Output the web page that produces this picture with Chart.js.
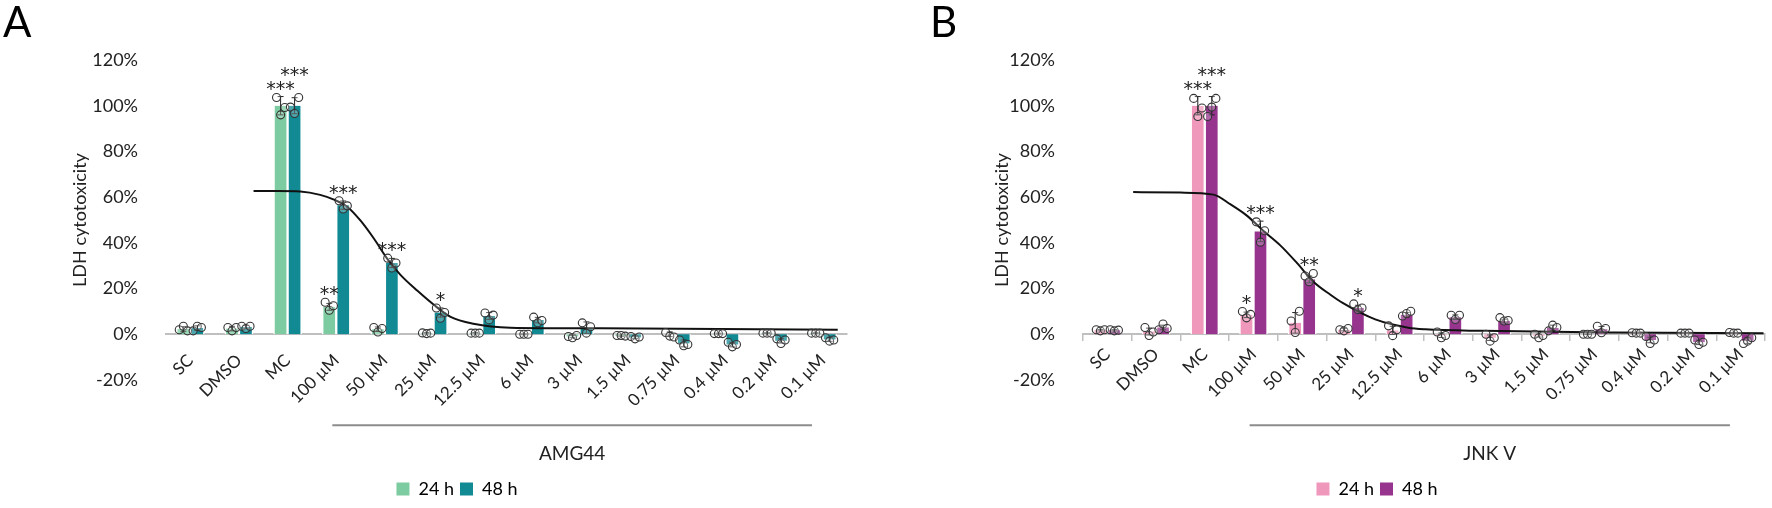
<!DOCTYPE html>
<html>
<head>
<meta charset="utf-8">
<script src="https://cdn.jsdelivr.net/npm/chart.js@4.4.1/dist/chart.umd.min.js"></script>
<style>
body{margin:0;background:#fff;}
.panel{position:absolute;top:0;width:886px;height:508px;}
</style>
</head>
<body>
<div class="panel" style="left:0"><canvas id="chartA"></canvas></div>
<div class="panel" style="left:886px"><canvas id="chartB"></canvas></div>
<script>
const labels = ['SC', 'DMSO', 'MC', '100 µM', '50 µM', '25 µM', '12.5 µM', '6 µM', '3 µM', '1.5 µM', '0.75 µM', '0.4 µM', '0.2 µM', '0.1 µM']
const yTicks = [-20, 0, 20, 40, 60, 80, 100, 120]

// AMG44 (panel A)
const amg24 = [2.3, 2.5, 100, 12, 2.2, 0.5, 0.5, 0, -1, -0.6, 0, 0.3, 0.5, 0.5]
const amg48 = [2.7, 3.2, 100, 56.5, 31.2, 9.5, 8, 6.2, 2.9, -1.4, -4, -4.5, -2.8, -2.3]
const amg24err = [1, 1, 4, 1.5, 1, 0.3, 0.3, 0.2, 0.5, 0.3, 1, 0.2, 0.2, 0.2]
const amg48err = [1, 0.6, 3.5, 1.8, 2, 2, 1.5, 1.2, 2.5, 0.5, 1.5, 1, 1, 0.8]
const amg24reps = [[2, 3.5, 1.5], [3, 1.5, 3], [103.6, 96, 99.2], [14, 10.5, 12.5], [3, 1, 2.5], [0.6, 0.3, 0.5], [0.5, 0.5, 0.5], [0, 0, 0], [-1, -1.5, -0.5], [-0.5, -0.5, -0.8], [0.8, -0.8, -1.2], [0.3, 0.3, 0.3], [0.5, 0.5, 0.5], [0.5, 0.5, 0.5]]
const amg48reps = [[1.5, 3.5, 3], [3.5, 2.5, 3.5], [99.4, 96.6, 103.6], [58.4, 54.8, 56.2], [33.3, 29, 31.2], [11.5, 7, 9.5], [9.3, 6.3, 8.4], [7.5, 5, 6], [5, 0.5, 3.3], [-1, -2, -1.2], [-2.5, -5, -4.5], [-3.5, -5.5, -4.5], [-2, -4, -2.5], [-1.5, -3, -2.5]]
const amg24stars = ['', '', '***', '**', '', '', '', '', '', '', '', '', '', '']
const amg48stars = ['', '', '***', '***', '***', '*', '', '', '', '', '', '', '', '']
const amgCurveX = [1.3, 1.8, 2.26, 2.67, 2.94, 3.23, 3.5, 3.77, 4.05, 4.32, 4.67, 5.0, 5.35, 5.82, 6.58, 8.44, 13.31]
const amgCurveY = [62.7, 62.7, 62.5, 61, 59, 55.7, 49.7, 42, 33, 26, 19, 13, 7.6, 4.6, 2.9, 2.6, 2.0]

// JNK V (panel B)
const jnk24 = [1.8, 1.2, 100, 8.5, 5, 2, 1.7, -0.4, -1.5, -0.6, 0, 0.5, 0.5, 0.6]
const jnk48 = [1.8, 3, 100, 45, 24, 11.5, 8.5, 7.5, 5.8, 2.8, 2.2, -2.5, -3.5, -2.8]
const jnk24err = [0.3, 1.5, 4, 1.2, 4.5, 0.5, 1.8, 1, 1.2, 0.6, 0.1, 0.2, 0.1, 0.2]
const jnk48err = [0.3, 1, 4, 4.5, 1.5, 1.2, 1, 1, 0.8, 1.2, 1.2, 1.2, 1, 1.2]
const jnk24reps = [[2, 1.5, 2], [3, -0.5, 1], [103.2, 95.3, 99], [10, 7.2, 8.7], [5.8, 0.8, 10.1], [2, 1.5, 2.5], [3.7, -0.6, 2], [1, -1.5, -0.5], [0, -3, -1.5], [0, -1.5, -0.5], [0, 0, 0], [0.7, 0.5, 0.5], [0.5, 0.5, 0.5], [0.8, 0.5, 0.5]]
const jnk48reps = [[2, 1.5, 1.8], [2, 4.5, 2.5], [95.3, 99.4, 103.2], [49.2, 40.3, 45.3], [25.5, 23, 26.6], [13.3, 10.8, 11.5], [8, 9.1, 10.1], [8.3, 6.5, 8.3], [7.3, 5.8, 6], [1.5, 4, 3], [3.5, 0.7, 2.5], [-1, -4, -2.5], [-2.5, -4.5, -3.5], [-4, -3, -1.5]]
const jnk24stars = ['', '', '***', '*', '', '', '', '', '', '', '', '', '', '']
const jnk48stars = ['', '', '***', '***', '**', '*', '', '', '', '', '', '', '', '']
const jnkCurveX = [0.53, 1.5, 2.18, 2.53, 2.87, 3.2, 3.55, 3.9, 4.23, 4.58, 4.83, 5.5, 6.18, 6.53, 7.7, 10.43, 13.47]
const jnkCurveY = [62.2, 62, 61.1, 56.8, 51.8, 45.3, 38.9, 31, 23, 17.3, 13.7, 6.5, 2.9, 2.2, 1.5, 0.8, 0.5]

const bracketRange = [2.92, 12.78]
const jitter = [-0.085, 0, 0.085]
const barShift = 0.143

Chart.defaults.font.family = 'Lato'
Chart.defaults.font.size = 18
Chart.defaults.color = '#222'
Chart.defaults.animation = false

// replicate dots, in category-index units (parsing is off for these datasets)
function pointData(reps, shift) {
  let pts = []
  for (let i = 0; i < reps.length; i++) {
    for (let j = 0; j < reps[i].length; j++) {
      pts.push({x: i + shift + jitter[j], y: reps[i][j]})
    }
  }
  return pts
}

function makePanel(id, p) {
  const curve = p.curveX.map((v, i) => ({x: v, y: p.curveY[i]}))
  const errs = [p.e24, p.e48]
  const vals = [p.v24, p.v48]

  const extras = {
    id: 'extras' + id,
    afterDatasetDraw(chart, args) {
      if (args.index > 1) return
      const ctx = chart.ctx
      const y = chart.scales.y
      ctx.save()
      ctx.strokeStyle = '#222'
      ctx.lineWidth = 1
      args.meta.data.forEach((bar, i) => {
        const v = vals[args.index][i], e = errs[args.index][i]
        const t = y.getPixelForValue(v + e), b = y.getPixelForValue(v - e)
        ctx.beginPath()
        ctx.moveTo(bar.x, t); ctx.lineTo(bar.x, b)
        ctx.moveTo(bar.x - 3, t); ctx.lineTo(bar.x + 3, t)
        ctx.moveTo(bar.x - 3, b); ctx.lineTo(bar.x + 3, b)
        ctx.stroke()
      })
      ctx.restore()
    },
    afterDraw(chart) {
      const ctx = chart.ctx
      const x = chart.scales.x, y = chart.scales.y
      const zero = y.getPixelForValue(0)
      ctx.save()
      // significance stars
      ctx.fillStyle = '#222'
      ctx.font = '19px "DejaVu Sans"'
      ctx.textAlign = 'center'
      ctx.textBaseline = 'middle'
      const m24 = chart.getDatasetMeta(0).data, m48 = chart.getDatasetMeta(1).data
      for (let i = 0; i < labels.length; i++) {
        let y24 = null, y48 = null
        if (p.s24[i]) {
          y24 = y.getPixelForValue(Math.max(...p.r24[i], p.v24[i] + p.e24[i])) - 11
          ctx.fillText(p.s24[i], m24[i].x, y24 + 4)
        }
        if (p.s48[i]) {
          y48 = y.getPixelForValue(Math.max(...p.r48[i], p.v48[i] + p.e48[i])) - 11
          if (y24 !== null && Math.abs(y24 - y48) < 14) y48 = Math.min(y24, y48) - 14
          ctx.fillText(p.s48[i], m48[i].x, y48 + 4)
        }
      }
      // bracket under the concentrations
      const bx1 = x.getPixelForValue(bracketRange[0]), bx2 = x.getPixelForValue(bracketRange[1])
      ctx.strokeStyle = '#8c8c8c'
      ctx.lineWidth = 2
      ctx.beginPath()
      ctx.moveTo(bx1, zero + 91); ctx.lineTo(bx2, zero + 91)
      ctx.stroke()
      ctx.font = '19px Lato'
      ctx.fillText(p.drug, (bx1 + bx2) / 2, zero + 120)
      // panel letter
      ctx.textAlign = 'left'
      ctx.textBaseline = 'top'
      ctx.font = '42px Lato'
      ctx.fillStyle = '#000'
      ctx.fillText(p.letter, p.letterX, 2)
      ctx.restore()
    }
  }

  // 14 px slots side by side, white side borders leave an 11 px bar and a 3 px gap
  const barStyle = {barThickness: 14, borderColor: '#fff', borderWidth: {left: 1.5, right: 1.5, top: 0, bottom: 0}, borderSkipped: false, order: 4}

  return new Chart(document.getElementById(id), {
    type: 'bar',
    data: {
      labels: labels,
      datasets: [
        Object.assign({label: '24 h', data: p.v24, backgroundColor: p.c24}, barStyle),
        Object.assign({label: '48 h', data: p.v48, backgroundColor: p.c48}, barStyle),
        {type: 'line', label: 'fit', data: curve, parsing: false, borderColor: '#111', borderWidth: 2,
          pointRadius: 0, cubicInterpolationMode: 'monotone', fill: false, order: 3},
        {type: 'line', label: 'points', data: pointData(p.r24, -barShift).concat(pointData(p.r48, barShift)),
          parsing: false, showLine: false, pointRadius: 4, pointBorderWidth: 1.1,
          pointBorderColor: '#333', pointBackgroundColor: 'rgba(255,255,255,0.25)', order: 1}
      ]
    },
    options: {
      responsive: true,
      maintainAspectRatio: false,
      layout: {padding: {left: p.padLeft, right: p.padRight, top: 60, bottom: 0}},
      scales: {
        x: {
          position: {y: 0},
          grid: {display: p.tickMarks, drawOnChartArea: false, drawTicks: true, tickLength: 6, color: '#bfbfbf', lineWidth: 1.5},
          border: {display: true, color: '#bfbfbf', width: 2},
          ticks: {autoSkip: false, maxRotation: 45, minRotation: 45, padding: p.tickMarks ? 4 : 10, font: {size: 17}}
        },
        // empty bottom axis that keeps room for the labels, bracket and drug name
        spacer: {
          type: 'linear', axis: 'x', position: 'bottom', min: 0, max: 1, offset: false,
          afterFit(scale) { scale.height = 94 },
          grid: {display: false}, border: {display: false}, ticks: {display: false}
        },
        y: {
          min: -20, max: 120,
          afterFit(scale) { scale.width = p.yWidth },
          afterBuildTicks(scale) { scale.ticks = yTicks.map(v => ({value: v})) },
          grid: {display: false},
          border: {display: false},
          title: {display: true, text: 'LDH cytotoxicity', font: {size: 18}, padding: {top: 2, bottom: 0}},
          ticks: {padding: 20, callback: v => v + '%'}
        }
      },
      plugins: {
        legend: {
          position: 'bottom',
          labels: {boxWidth: 13, boxHeight: 13, padding: 6, font: {size: 18},
            generateLabels: chart => [0, 1].map(i => ({
              text: chart.data.datasets[i].label, fillStyle: chart.data.datasets[i].backgroundColor,
              strokeStyle: chart.data.datasets[i].backgroundColor, lineWidth: 0, datasetIndex: i
            }))}
        },
        tooltip: {enabled: false}
      }
    },
    plugins: [extras]
  })
}

makePanel('chartA', {
  letter: 'A', letterX: 3, drug: 'AMG44',
  c24: 'rgb(125,203,160)', c48: 'rgb(18,138,148)',
  v24: amg24, v48: amg48, e24: amg24err, e48: amg48err,
  r24: amg24reps, r48: amg48reps, s24: amg24stars, s48: amg48stars,
  curveX: amgCurveX, curveY: amgCurveY,
  padLeft: 67, padRight: 39, yWidth: 99, tickMarks: false
})

makePanel('chartB', {
  letter: 'B', letterX: 44, drug: 'JNK V',
  c24: 'rgb(240,152,188)', c48: 'rgb(150,52,142)',
  v24: jnk24, v48: jnk48, e24: jnk24err, e48: jnk48err,
  r24: jnk24reps, r48: jnk48reps, s24: jnk24stars, s48: jnk48stars,
  curveX: jnkCurveX, curveY: jnkCurveY,
  padLeft: 103, padRight: 7, yWidth: 94, tickMarks: true
})
</script>
</body>
</html>
